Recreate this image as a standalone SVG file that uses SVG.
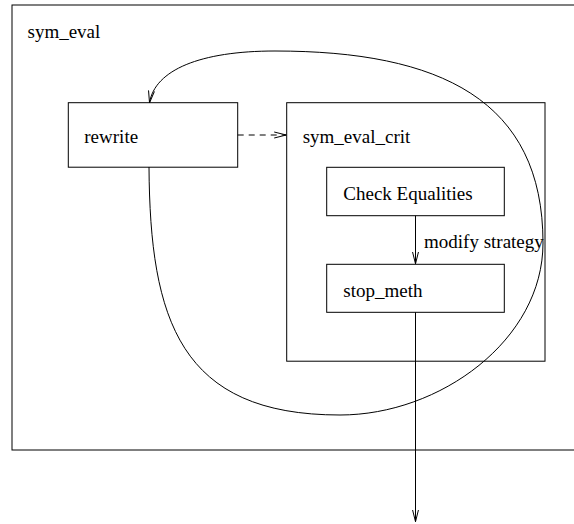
<svg xmlns="http://www.w3.org/2000/svg" width="574" height="524" viewBox="0 0 574 524">
<defs>
<style>
.box{fill:none;stroke:#000;stroke-width:1}
.lbl{font-family:"Liberation Serif","Times New Roman",serif;font-size:19px;fill:#000}
.edge{fill:none;stroke:#000;stroke-width:1}
.dash{stroke-dasharray:6,5}
</style>
<marker id="arr" markerUnits="userSpaceOnUse" markerWidth="14" markerHeight="10" refX="12" refY="5" orient="auto">
<path d="M0,2 L12,5 L0,8" fill="none" stroke="#000" stroke-width="1"/>
</marker>
</defs>
<rect width="574" height="524" fill="#fff"/>
<g id="sym_eval">
<rect class="box" x="12" y="5" width="600" height="445"/>
<text class="lbl" x="27.5" y="38.3">sym_eval</text>
</g>
<g id="rewrite">
<rect class="box" x="68.3" y="102.7" width="169.4" height="64.5"/>
<text class="lbl" x="84.3" y="143.3">rewrite</text>
</g>
<g id="sym_eval_crit">
<rect class="box" x="286.7" y="102.7" width="258.3" height="258.5"/>
<text class="lbl" x="302.7" y="143.3">sym_eval_crit</text>
</g>
<g id="check_equalities">
<rect class="box" x="326.7" y="167.3" width="177.6" height="48.4"/>
<text class="lbl" x="343.3" y="200">Check Equalities</text>
</g>
<g id="stop_meth">
<rect class="box" x="326.7" y="264.3" width="177.6" height="48"/>
<text class="lbl" x="343.3" y="297">stop_meth</text>
</g>
<g id="connectors">
<line class="edge dash" x1="237.7" y1="135" x2="286.2" y2="135" marker-end="url(#arr)"/>
<line class="edge" x1="415.5" y1="215.7" x2="415.5" y2="263.8" marker-end="url(#arr)"/>
<text class="lbl" x="424" y="248">modify strategy</text>
<line class="edge" x1="415.5" y1="312.3" x2="415.5" y2="521.7" marker-end="url(#arr)"/>
<path class="edge" d="M149,167 C150,320 180,415 340,415 C440,415 543,340 543,243 C543,100 440,51 275,51 C200,51 155,70 149.5,102.7" marker-end="url(#arr)"/>
</g>
</svg>
